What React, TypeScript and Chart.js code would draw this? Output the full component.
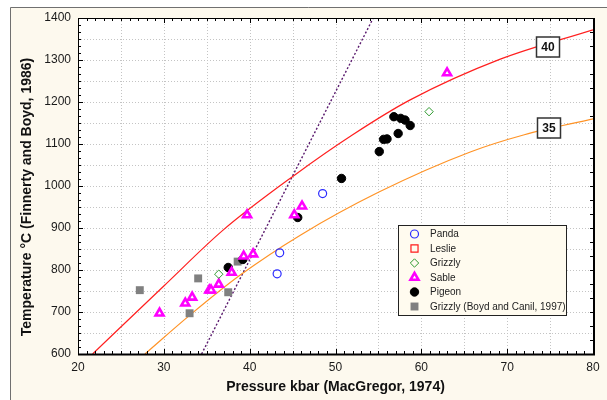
import React, { useEffect, useRef } from 'react';
import { Chart, registerables } from 'chart.js';

Chart.register(...registerables);

const FONT = '"Liberation Sans", Arial, sans-serif';
const CREAM = '#fdf9ee';

// ---- data (Pressure kbar, Temperature °C) ----
const panda: number[][] = [[43.5, 841], [43.2, 791], [48.5, 982]];
const leslie: number[][] = [];
const grizzly: number[][] = [[36.4, 790], [60.9, 1177]];
const sable: number[][] = [
  [29.5, 697], [32.5, 721], [33.3, 735], [35.3, 752], [35.5, 752], [36.4, 766],
  [37.9, 794], [39.3, 833], [40.4, 838], [39.7, 931], [45.2, 931], [46.1, 952], [63.0, 1269],
];
const pigeon: number[][] = [
  [37.5, 806], [39.2, 825], [45.6, 925], [50.7, 1018], [55.1, 1082], [55.6, 1111],
  [56.0, 1112], [56.8, 1165], [57.6, 1161], [58.1, 1157], [57.3, 1125], [58.7, 1144],
];
const grizzlyBoydCanil: number[][] = [[27.2, 752], [33.0, 697], [34.0, 780], [37.5, 747], [38.6, 820]];

const geotherm40: number[][] = [
  [21.7, 600], [30, 762], [36.9, 895], [45.1, 1024], [52, 1122], [58.7, 1205], [69.2, 1302], [80, 1372],
];
const geotherm35: number[][] = [
  [27.8, 600], [33, 692], [38.9, 788], [45.9, 883], [55, 985], [65.7, 1081], [72, 1122], [80, 1160],
];
const graphiteDiamond: number[][] = [[34.4, 600], [54.4, 1400]];

const curveLabels = [
  { text: '40', x: 74.7, y: 1331 },
  { text: '35', x: 74.9, y: 1139 },
];

const xTitle = 'Pressure kbar (MacGregor, 1974)';
const yTitle = 'Temperature °C (Finnerty and Boyd, 1986)';

const xLabelStep = 10;
const yLabelStep = 100;
const xGridStep = 5;
const yGridStep = 50;

const legendNames = ['Panda', 'Leslie', 'Grizzly', 'Sable', 'Pigeon', 'Grizzly (Boyd and Canil, 1997)'];

const pts = (a: number[][]) => a.map(([x, y]) => ({ x, y }));

type MarkerStyle = { shape: string; r: number; fill: string; stroke: string; lw: number };
const markerStyles: MarkerStyle[] = [
  { shape: 'circle', r: 4, fill: 'rgba(0,0,0,0)', stroke: '#2b2bff', lw: 1.2 },
  { shape: 'rect', r: 5, fill: 'rgba(0,0,0,0)', stroke: '#ff1a1a', lw: 1.2 },
  { shape: 'rectRot', r: 4.2, fill: 'rgba(0,0,0,0)', stroke: '#2f9a2f', lw: 1 },
  { shape: 'triangle', r: 4.6, fill: '#ffffff', stroke: '#ff00ff', lw: 2.6 },
  { shape: 'circle', r: 4.2, fill: '#000000', stroke: '#000000', lw: 1 },
  { shape: 'rect', r: 5.6, fill: '#808080', stroke: '#808080', lw: 0 },
];

function drawMarker(ctx: CanvasRenderingContext2D, s: MarkerStyle, x: number, y: number) {
  ctx.save();
  ctx.beginPath();
  const r = s.r;
  if (s.shape === 'circle') {
    ctx.arc(x, y, r, 0, Math.PI * 2);
  } else if (s.shape === 'rect') {
    const h = r * Math.SQRT1_2;
    ctx.rect(x - h, y - h, 2 * h, 2 * h);
  } else if (s.shape === 'rectRot') {
    ctx.moveTo(x, y - r); ctx.lineTo(x + r, y); ctx.lineTo(x, y + r); ctx.lineTo(x - r, y); ctx.closePath();
  } else if (s.shape === 'triangle') {
    for (let i = 0; i < 3; i++) {
      const a = (i * 2 * Math.PI) / 3;
      const px = x + Math.sin(a) * r;
      const py = y - Math.cos(a) * r;
      if (i === 0) ctx.moveTo(px, py); else ctx.lineTo(px, py);
    }
    ctx.closePath();
  }
  ctx.fillStyle = s.fill;
  ctx.fill();
  if (s.lw > 0) {
    ctx.lineWidth = s.lw;
    ctx.strokeStyle = s.stroke;
    ctx.stroke();
  }
  ctx.restore();
}

const decorPlugin = {
  id: 'decor',
  beforeDraw(chart: any) {
    const { ctx, width, height, chartArea: a } = chart;
    ctx.save();
    ctx.fillStyle = '#ffffff';
    ctx.fillRect(0, 0, width, height);
    ctx.fillStyle = CREAM;
    ctx.fillRect(10, 7, width - 10, height - 7);
    ctx.strokeStyle = '#707070';
    ctx.lineWidth = 1;
    ctx.beginPath();
    ctx.moveTo(10.5, height);
    ctx.lineTo(10.5, 7.5);
    ctx.lineTo(width, 7.5);
    ctx.stroke();
    ctx.fillStyle = '#ffffff';
    ctx.fillRect(a.left, a.top, a.right - a.left, a.bottom - a.top);
    ctx.restore();
  },
  beforeDatasetsDraw(chart: any) {
    const { ctx, chartArea: a, scales } = chart;
    const xs = scales.x, ys = scales.y;
    ctx.save();
    ctx.strokeStyle = '#c4c4c4';
    ctx.lineWidth = 1;
    ctx.setLineDash([1, 2]);
    for (let v = xs.min + xGridStep; v < xs.max; v += xGridStep) {
      const px = Math.round(xs.getPixelForValue(v)) + 0.5;
      ctx.beginPath(); ctx.moveTo(px, a.top); ctx.lineTo(px, a.bottom); ctx.stroke();
    }
    for (let v = ys.min + yGridStep; v < ys.max; v += yGridStep) {
      const py = Math.round(ys.getPixelForValue(v)) + 0.5;
      ctx.beginPath(); ctx.moveTo(a.left, py); ctx.lineTo(a.right, py); ctx.stroke();
    }
    ctx.restore();
  },
  afterDatasetsDraw(chart: any) {
    const { ctx, chartArea: a, scales } = chart;
    const xs = scales.x, ys = scales.y;
    ctx.save();
    ctx.strokeStyle = '#000';
    ctx.lineWidth = 1;
    ctx.beginPath();
    for (let v = xs.min; v <= xs.max + 1e-6; v += 1) {
      const px = Math.round(xs.getPixelForValue(v)) + 0.5;
      const major = Math.abs(v % xLabelStep) < 1e-6;
      const len = major ? 5 : 3;
      ctx.moveTo(px, a.bottom); ctx.lineTo(px, a.bottom - len);
      ctx.moveTo(px, a.top); ctx.lineTo(px, a.top + len);
    }
    const yMinor = yGridStep / 3;
    for (let i = 0; ys.min + i * yMinor <= ys.max + 1e-6; i++) {
      const v = ys.min + i * yMinor;
      const py = Math.round(ys.getPixelForValue(v)) + 0.5;
      const major = i % 6 === 0;
      const len = major ? 5 : 3;
      ctx.moveTo(a.left, py); ctx.lineTo(a.left + len, py);
      if (i % 2 === 0) { ctx.moveTo(a.right, py); ctx.lineTo(a.right - 3, py); }
    }
    ctx.stroke();
    ctx.lineWidth = 1;
    ctx.strokeRect(Math.round(a.left) + 0.5, Math.round(a.top) + 0.5, Math.round(a.right - a.left), Math.round(a.bottom - a.top));
    ctx.lineWidth = 2;
    ctx.beginPath();
    ctx.moveTo(a.left, Math.round(a.bottom) + 0.5);
    ctx.lineTo(a.right + 1, Math.round(a.bottom) + 0.5);
    ctx.lineTo(a.right + 1, a.top);
    ctx.stroke();
    ctx.restore();
  },
  afterDraw(chart: any) {
    const { ctx, scales, chartArea: a } = chart;
    const xs = scales.x, ys = scales.y;
    ctx.save();
    // axis titles
    ctx.fillStyle = '#111';
    ctx.font = `bold 14px ${FONT}`;
    ctx.textAlign = 'center';
    ctx.textBaseline = 'middle';
    ctx.fillText(xTitle, (a.left + a.right) / 2, 387);
    ctx.save();
    ctx.translate(27, 197);
    ctx.rotate(-Math.PI / 2);
    ctx.fillText(yTitle, 0, 0);
    ctx.restore();
    // curve labels
    ctx.font = `bold 12px ${FONT}`;
    curveLabels.forEach((l) => {
      const cx = Math.round(xs.getPixelForValue(l.x));
      const cy = Math.round(ys.getPixelForValue(l.y));
      const w = 23, h = 20;
      ctx.fillStyle = '#ffffff';
      ctx.fillRect(cx - w / 2, cy - h / 2, w, h);
      ctx.lineWidth = 1.5;
      ctx.strokeStyle = '#333';
      ctx.strokeRect(cx - w / 2, cy - h / 2, w, h);
      ctx.fillStyle = '#111';
      ctx.fillText(l.text, cx, cy + 1);
    });
    // legend
    const lx = 398.5, ly = 225.5, lw = 168, lh = 90;
    ctx.fillStyle = '#fffbef';
    ctx.fillRect(lx, ly, lw, lh);
    ctx.lineWidth = 1;
    ctx.strokeStyle = '#222';
    ctx.strokeRect(lx, ly, lw, lh);
    ctx.font = `10px ${FONT}`;
    ctx.textAlign = 'left';
    ctx.textBaseline = 'middle';
    legendNames.forEach((name, i) => {
      const y = 234 + i * 14.5;
      drawMarker(ctx, markerStyles[i], 414.5, y);
      ctx.fillStyle = '#222';
      ctx.fillText(name, 430, y + 0.5);
    });
    ctx.restore();
  },
};

function pointDataset(label: string, data: number[][], s: MarkerStyle) {
  return {
    type: 'scatter' as const,
    label,
    data: pts(data),
    pointStyle: s.shape,
    pointRadius: s.r,
    pointHoverRadius: s.r,
    pointBackgroundColor: s.fill,
    pointBorderColor: s.stroke,
    pointBorderWidth: s.lw,
    showLine: false,
  };
}

function lineDataset(label: string, data: number[][], color: string, width: number, dash: number[], smooth: boolean) {
  return {
    type: 'scatter' as const,
    label,
    data: pts(data),
    showLine: true,
    borderColor: color,
    borderWidth: width,
    borderDash: dash,
    pointRadius: 0,
    pointHoverRadius: 0,
    cubicInterpolationMode: smooth ? ('monotone' as const) : ('default' as const),
    tension: 0,
    fill: false,
  };
}

export default function App() {
  const ref = useRef<HTMLCanvasElement | null>(null);
  useEffect(() => {
    document.body.style.margin = '0';
    const canvas = ref.current;
    if (!canvas) return;
    const chart = new Chart(canvas, {
      type: 'scatter',
      data: {
        datasets: [
          pointDataset('Panda', panda, markerStyles[0]),
          pointDataset('Leslie', leslie, markerStyles[1]),
          pointDataset('Grizzly', grizzly, markerStyles[2]),
          pointDataset('Sable', sable, markerStyles[3]),
          pointDataset('Pigeon', pigeon, markerStyles[4]),
          pointDataset('Grizzly (Boyd and Canil, 1997)', grizzlyBoydCanil, markerStyles[5]),
          lineDataset('40', geotherm40, '#ff1f1f', 1.2, [], true),
          lineDataset('35', geotherm35, '#ff9326', 1.2, [], true),
          lineDataset('graphite-diamond', graphiteDiamond, '#5a1a6e', 1.4, [2, 2], false),
        ] as any,
      },
      plugins: [decorPlugin as any],
      options: {
        responsive: false,
        animation: false,
        devicePixelRatio: 1,
        layout: { padding: { left: 0, top: 18, right: 14, bottom: 0 } },
        plugins: { legend: { display: false }, tooltip: { enabled: false } },
        scales: {
          x: {
            type: 'linear',
            min: 20,
            max: 80,
            ticks: {
              stepSize: xLabelStep, padding: 6, color: '#1a1a1a', font: { size: 12, family: FONT },
              maxRotation: 0, autoSkip: false, callback: (v: any) => String(v),
            },
            grid: { display: false, drawTicks: false },
            border: { display: false },
            title: { display: false },
            afterFit: (s: any) => { s.height = 46; },
          },
          y: {
            type: 'linear',
            min: 600,
            max: 1400,
            ticks: {
              stepSize: yLabelStep, padding: 7, color: '#1a1a1a', font: { size: 12, family: FONT },
              callback: (v: any) => String(v),
            },
            grid: { display: false, drawTicks: false },
            border: { display: false },
            title: { display: false },
            afterFit: (s: any) => { s.width = 78; },
          },
        },
      } as any,
    });
    return () => chart.destroy();
  }, []);
  return (
    <div style={{ width: 607, height: 400 }}>
      <canvas ref={ref} width={607} height={400} style={{ display: 'block', width: 607, height: 400 }} />
    </div>
  );
}
